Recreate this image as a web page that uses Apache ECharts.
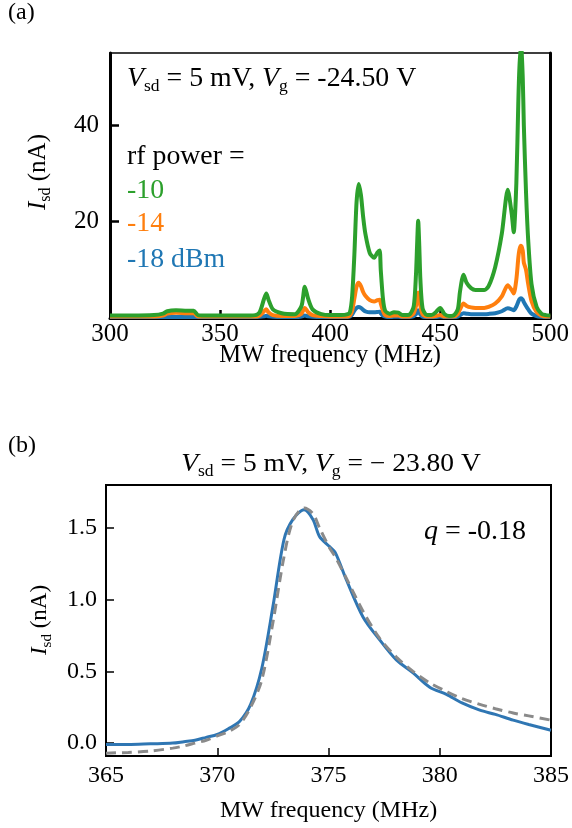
<!DOCTYPE html>
<html><head><meta charset="utf-8">
<script src="https://cdn.jsdelivr.net/npm/echarts@6/dist/echarts.min.js"></script>
<style>html,body{margin:0;padding:0;background:#fff}#c{width:572px;height:828px}</style>
</head><body><div id="c"></div>
<script>
// ---------- Panel (a) data ----------
const freqA = [
  300, 310, 320, 324, 326, 330, 335, 338, 340, 345,
  350, 360, 366, 368, 370, 371, 372, 374, 378, 384,
  387, 388.5, 390, 392, 396, 400, 405, 408, 409, 410,
  411, 412, 413, 414, 415, 416, 418, 420, 421.5, 422.5,
  423, 424, 425, 427, 429, 431, 433, 436, 438, 439,
  439.5, 440, 440.5, 441, 442, 444, 446, 448, 450, 452,
  454, 456, 458, 459, 460.6, 462, 464, 466, 470, 472,
  475, 478, 480.7, 482.5, 483.4, 484.6, 485.5, 486, 486.7, 487.5,
  488, 489, 490, 491.5, 493.8, 496, 498, 500
];
const powerM10 = [
  0.5, 0.5, 0.6, 0.9, 1.4, 1.6, 1.5, 1.5, 0.6, 0.5,
  0.5, 0.5, 0.6, 1.2, 4.0, 5.1, 3.8, 1.8, 1.0, 0.8,
  2.5, 6.5, 4.0, 1.8, 0.8, 0.6, 0.6, 0.8, 1.2, 4.5,
  13, 24, 27.8, 25.5, 21, 17.5, 13.5, 12.5, 13.6, 14.0,
  10, 4, 1.5, 0.9, 1.2, 1.1, 0.6, 0.7, 2.5, 9,
  15, 20.2, 15, 8, 2, 0.6, 0.6, 1.2, 2.1, 0.8,
  0.4, 0.5, 1.8, 5.5, 9.0, 7.3, 6.2, 5.8, 5.8, 6.6,
  10.6, 17.5, 26.6, 21.6, 17.8, 28, 45, 52, 57, 50,
  40, 26, 16, 7, 2.3, 0.9, 0.6, 0.5
];
const powerM14 = [
  0.3, 0.3, 0.3, 0.5, 0.9, 1.1, 1.0, 1.0, 0.3, 0.3,
  0.3, 0.3, 0.3, 0.5, 1.4, 1.8, 1.2, 0.6, 0.4, 0.4,
  0.9, 2.1, 1.2, 0.6, 0.4, 0.3, 0.3, 0.3, 0.5, 1.5,
  4.0, 6.5, 7.3, 6.6, 5.4, 4.6, 3.7, 3.4, 3.7, 3.8,
  3.0, 1.5, 0.6, 0.4, 0.5, 0.5, 0.3, 0.3, 1.0, 2.5,
  4.0, 5.3, 4.0, 2.5, 0.8, 0.3, 0.3, 0.4, 0.6, 0.3,
  0.3, 0.3, 0.8, 1.8, 3.0, 2.5, 2.2, 2.1, 2.1, 2.3,
  3.0, 4.5, 6.8, 5.8, 5.1, 8.0, 12.5, 14.2, 15.0, 14.0,
  11.5, 10.0, 7.0, 3.5, 1.2, 0.5, 0.3, 0.3
];
const powerM18 = [
  0.2, 0.2, 0.2, 0.2, 0.2, 0.2, 0.2, 0.2, 0.2, 0.2,
  0.2, 0.2, 0.2, 0.25, 0.35, 0.45, 0.35, 0.25, 0.2, 0.2,
  0.3, 0.5, 0.35, 0.25, 0.2, 0.2, 0.2, 0.2, 0.3, 0.7,
  1.5, 2.1, 2.3, 2.1, 1.7, 1.4, 1.2, 1.2, 1.25, 1.3,
  1.0, 0.5, 0.3, 0.2, 0.25, 0.25, 0.2, 0.2, 0.4, 0.8,
  1.2, 1.6, 1.2, 0.7, 0.3, 0.2, 0.2, 0.2, 0.3, 0.2,
  0.2, 0.2, 0.3, 0.6, 1.0, 0.9, 0.8, 0.8, 0.8, 0.85,
  1.0, 1.4, 2.0, 1.8, 1.6, 2.4, 3.4, 3.9, 4.1, 3.8,
  3.3, 2.5, 1.8, 0.9, 0.4, 0.25, 0.2, 0.2
];
const yTicksA = [20, 40];

// ---------- Panel (b) data ----------
const freqB = [
  365, 366, 367, 368, 368.5, 369, 369.5, 370, 370.5, 371,
  371.5, 372, 372.5, 373, 373.4, 373.9, 374.3, 374.6, 375.05, 375.3,
  375.8, 376.55, 377.3, 378.05, 378.8, 379.55, 380.3, 381, 381.8, 382.5,
  383.3, 384, 385
];
const measuredB = [
  -0.01, -0.01, -0.005, 0.0, 0.01, 0.02, 0.04, 0.06, 0.10, 0.15,
  0.27, 0.52, 0.95, 1.42, 1.56, 1.627, 1.56, 1.44, 1.37, 1.33,
  1.14, 0.88, 0.72, 0.58, 0.49, 0.39, 0.34, 0.28, 0.23, 0.20,
  0.16, 0.13, 0.09
];
const fitB = [
  -0.07, -0.065, -0.055, -0.035, -0.02, 0.0, 0.02, 0.05, 0.08, 0.13,
  0.25, 0.44, 0.84, 1.30, 1.55, 1.64, 1.60, 1.50, 1.36, 1.30,
  1.15, 0.92, 0.73, 0.60, 0.50, 0.42, 0.36, 0.31, 0.27, 0.24,
  0.21, 0.19, 0.16
];
const yTicksB = [0, 0.5, 1.0, 1.5];

const SERIF = '"Liberation Serif", "Times New Roman", serif';
const zip = (xs, ys) => xs.map((x, i) => [x, ys[i]]);

const chart = echarts.init(document.getElementById('c'), null, {renderer: 'canvas'});

const subStyles = (fs, subFs) => ({
  i: {fontSize: fs, fontStyle: 'italic', fontFamily: SERIF, fill: '#000', lineHeight: fs + 6},
  n: {fontSize: fs, fontFamily: SERIF, fill: '#000', lineHeight: fs + 6},
  s: {fontSize: subFs, fontFamily: SERIF, fill: '#000', lineHeight: subFs, verticalAlign: 'bottom'}
});

const option = {
  animation: false,
  backgroundColor: '#fff',
  grid: [
    {left: 110, top: 53, width: 442, height: 265, show: true, borderColor: '#000', borderWidth: 1.5, backgroundColor: 'transparent'},
    {left: 106, top: 485, width: 446, height: 271, show: true, borderColor: '#000', borderWidth: 2, backgroundColor: 'transparent'}
  ],
  xAxis: [
    {
      gridIndex: 0, type: 'value', min: 300, max: 500, interval: 50, position: 'bottom',
      axisLine: {onZero: false, lineStyle: {color: '#000', width: 3}},
      axisTick: {inside: true, length: 8, lineStyle: {color: '#000', width: 2.5}},
      axisLabel: {fontSize: 25, color: '#000', fontFamily: SERIF, margin: 4},
      splitLine: {show: false},
      name: 'MW frequency (MHz)', nameLocation: 'middle', nameGap: 25, nameMoveOverlap: false,
      nameTextStyle: {fontSize: 24.5, color: '#000', fontFamily: SERIF}
    },
    {
      gridIndex: 1, type: 'value', min: 365, max: 385, interval: 5, position: 'bottom',
      axisLine: {onZero: false, lineStyle: {color: '#000', width: 2}},
      axisTick: {inside: true, length: 8, lineStyle: {color: '#000', width: 1.5}},
      axisLabel: {fontSize: 24, color: '#000', fontFamily: SERIF, margin: 8},
      splitLine: {show: false},
      name: 'MW frequency (MHz)', nameLocation: 'middle', nameGap: 43, nameMoveOverlap: false,
      nameTextStyle: {fontSize: 24, color: '#000', fontFamily: SERIF}
    }
  ],
  yAxis: [
    {
      gridIndex: 0, type: 'value', min: 0, max: 55,
      axisLine: {show: true, onZero: false, lineStyle: {color: '#000', width: 3}},
      axisTick: {show: true, inside: true, length: 9, customValues: yTicksA, lineStyle: {color: '#000', width: 2.5}},
      axisLabel: {fontSize: 25, color: '#000', fontFamily: SERIF, margin: 11, customValues: yTicksA},
      splitLine: {show: false}
    },
    {
      gridIndex: 0, type: 'value', min: 0, max: 55, position: 'right',
      axisLine: {show: true, onZero: false, lineStyle: {color: '#000', width: 3}},
      axisTick: {show: false}, axisLabel: {show: false}, splitLine: {show: false}
    },
    {
      gridIndex: 1, type: 'value', min: -0.09, max: 1.8,
      axisLine: {show: true, onZero: false, lineStyle: {color: '#000', width: 2}},
      axisTick: {show: true, inside: true, length: 8, customValues: yTicksB, lineStyle: {color: '#000', width: 1.5}},
      axisLabel: {fontSize: 24, color: '#000', fontFamily: SERIF, margin: 9, customValues: yTicksB,
        formatter: v => Number(v).toFixed(1)},
      splitLine: {show: false}
    }
  ],
  series: [
    {type: 'line', xAxisIndex: 0, yAxisIndex: 0, data: zip(freqA, powerM18), showSymbol: false, smooth: 0.25,
      lineStyle: {color: '#1f77b4', width: 4}, itemStyle: {color: '#1f77b4'}, clip: true},
    {type: 'line', xAxisIndex: 0, yAxisIndex: 0, data: zip(freqA, powerM14), showSymbol: false, smooth: 0.25,
      lineStyle: {color: '#ff7f0e', width: 4}, itemStyle: {color: '#ff7f0e'}, clip: true},
    {type: 'line', xAxisIndex: 0, yAxisIndex: 0, data: zip(freqA, powerM10), showSymbol: false, smooth: 0.25,
      lineStyle: {color: '#2ca02c', width: 4}, itemStyle: {color: '#2ca02c'}, clip: true},
    {type: 'line', xAxisIndex: 1, yAxisIndex: 2, data: zip(freqB, measuredB), showSymbol: false, smooth: 0.3,
      lineStyle: {color: '#2f76b3', width: 3}, itemStyle: {color: '#2f76b3'}, clip: true},
    {type: 'line', xAxisIndex: 1, yAxisIndex: 2, data: zip(freqB, fitB), showSymbol: false, smooth: 0.3,
      lineStyle: {color: '#8a8a8a', width: 3, type: [10, 6]}, itemStyle: {color: '#8a8a8a'}, clip: true}
  ],
  graphic: [
    {type: 'text', x: 8, y: 13, style: {text: '(a)', fontSize: 24, fontFamily: SERIF, fill: '#000', verticalAlign: 'middle'}},
    {type: 'text', x: 8, y: 446, style: {text: '(b)', fontSize: 24, fontFamily: SERIF, fill: '#000', verticalAlign: 'middle'}},
    {type: 'text', x: 127, y: 79, scaleX: 1.03, style: {
      text: '{i|V}{s|sd}{n| = 5 mV, }{i|V}{s|g}{n| = -24.50 V}',
      verticalAlign: 'middle', rich: subStyles(27, 17)}},
    {type: 'text', x: 127, y: 157, scaleX: 1.03, style: {text: 'rf power =', fontSize: 27, fontFamily: SERIF, fill: '#000', verticalAlign: 'middle'}},
    {type: 'text', x: 127, y: 191, scaleX: 1.03, style: {text: '-10', fontSize: 27, fontFamily: SERIF, fill: '#2ca02c', verticalAlign: 'middle'}},
    {type: 'text', x: 127, y: 224, scaleX: 1.03, style: {text: '-14', fontSize: 27, fontFamily: SERIF, fill: '#ff7f0e', verticalAlign: 'middle'}},
    {type: 'text', x: 127, y: 260, scaleX: 1.03, style: {text: '-18 dBm', fontSize: 27, fontFamily: SERIF, fill: '#1f77b4', verticalAlign: 'middle'}},
    {type: 'text', x: 38, y: 172, rotation: Math.PI / 2, style: {
      text: '{i|I}{s|sd}{n| (nA)}', align: 'center', verticalAlign: 'middle', rich: subStyles(25, 16)}},
    {type: 'text', x: 40, y: 620, rotation: Math.PI / 2, style: {
      text: '{i|I}{s|sd}{n| (nA)}', align: 'center', verticalAlign: 'middle', rich: subStyles(23, 15)}},
    {type: 'text', x: 331, y: 464, scaleX: 1.1, originX: 0, style: {
      text: '{i|V}{s|sd}{n| = 5 mV, }{i|V}{s|g}{n| = − 23.80 V}',
      align: 'center', verticalAlign: 'middle', rich: subStyles(25, 16)}},
    {type: 'text', x: 424, y: 532, style: {
      text: '{i|q}{n| = -0.18}', verticalAlign: 'middle', rich: subStyles(28, 17)}}
  ]
};
chart.setOption(option);
</script>
</body></html>
